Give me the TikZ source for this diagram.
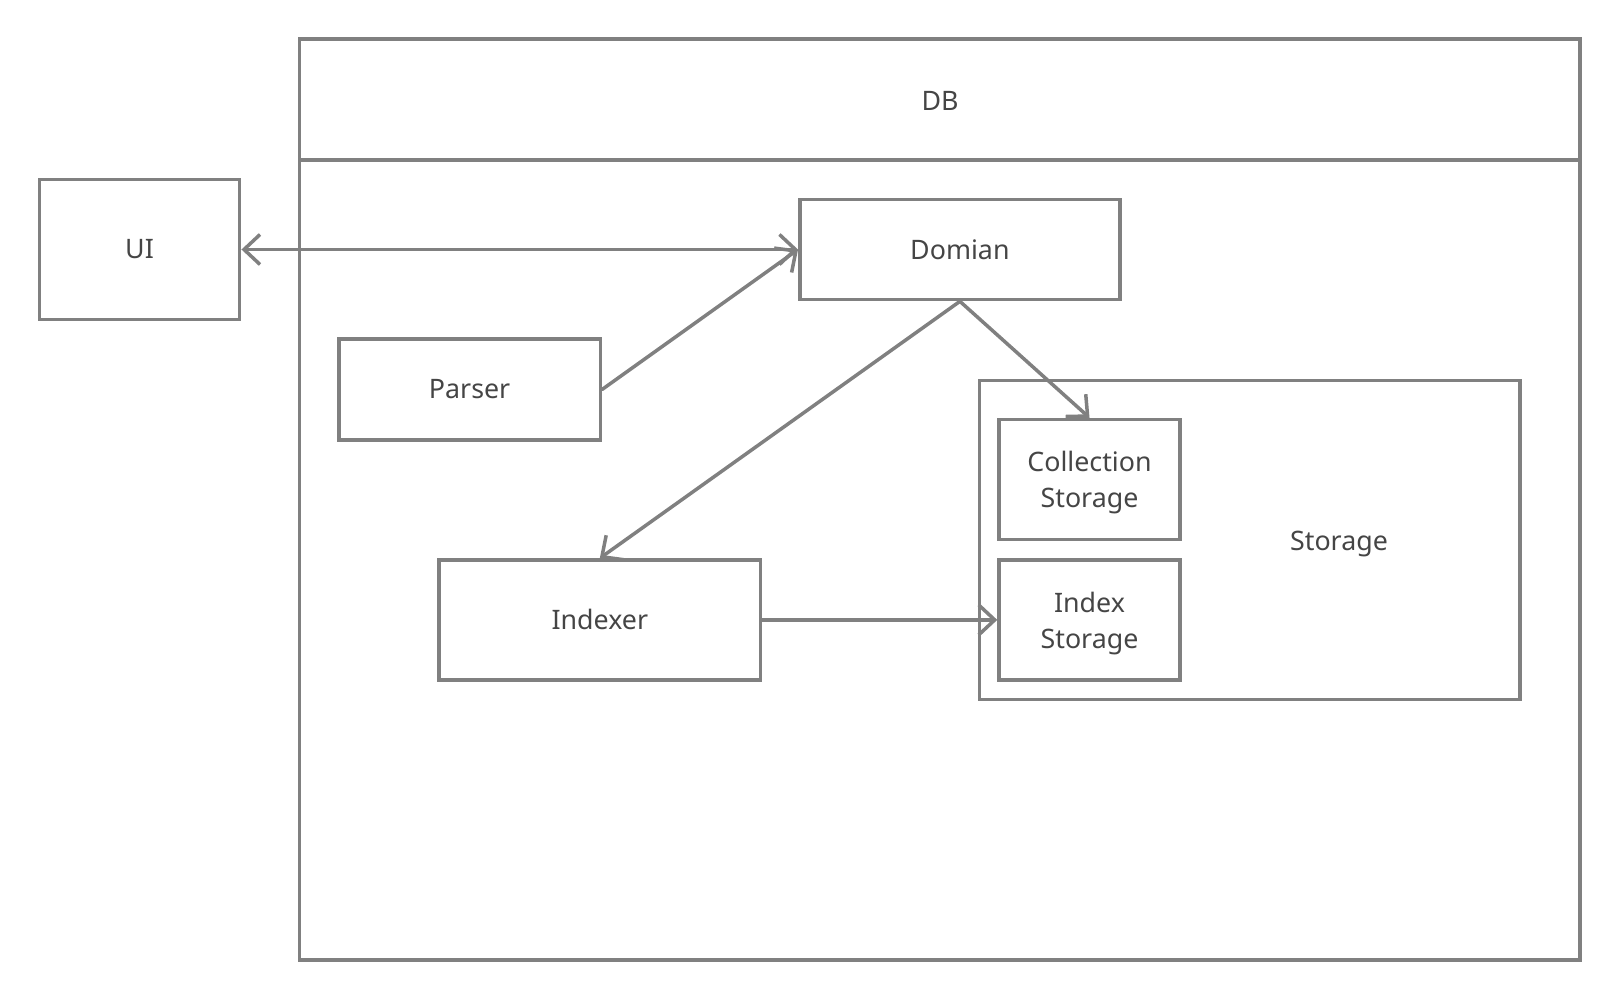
\documentclass[tikz,border=0pt]{standalone}
\usepackage{fontspec}
\setmainfont{Noto Sans}
\usetikzlibrary{arrows.meta}
\definecolor{linegray}{HTML}{808080}
\definecolor{textgray}{HTML}{454545}
\begin{document}
\begin{tikzpicture}[x=0.5pt,y=-0.5pt,
  box/.style={draw=linegray, line width=1.75pt, inner sep=0pt, text=textgray,
    font=\fontsize{13.4}{18}\selectfont, align=center},
  lbl/.style={text=textgray, font=\fontsize{13.4}{18}\selectfont, align=center, inner sep=0pt},
  conn/.style={draw=linegray, line width=1.75pt, line cap=round},
  tip/.style={-{Straight Barb[length=8pt,width=15pt,line width=1.75pt]}}]
\useasboundingbox (0,0) rectangle (1620,1000);
% DB container
\node[box, minimum width=640.1pt, minimum height=460.25pt] (db) at (939.7,499.5) {};
\coordinate (hl) at (299.6,160.1);
\coordinate (hr) at (1579.8,160.1);
\draw[conn, line cap=butt] (hl) -- (hr);
\node[lbl] (dblabel) at (940,101) {DB};
% nodes
\node[box, minimum width=100.2pt, minimum height=69.75pt] (ui) at (139.5,249.5) {UI};
\node[box, minimum width=160.15pt, minimum height=50.1pt] (domian) at (959.9,249.5) {Domian};
\node[box, minimum width=130.7pt, minimum height=50.6pt] (parser) at (469.6,389.5) {Parser};
\node[box, minimum width=160.65pt, minimum height=59.9pt] (indexer) at (599.8,619.9) {Indexer};
\node[box, minimum width=270.15pt, minimum height=159.65pt] (storage) at (1249.7,539.9) {};
\node[lbl] (storagelabel) at (1339,544) {Storage};
\node[box, minimum width=90.5pt, minimum height=59.9pt] (coll) at (1089.5,479.4) {};
\node[lbl] (colllabel) at (1089.5,483) {Collection\\Storage};
\node[box, minimum width=90.5pt, minimum height=59.9pt] (idx) at (1089.5,619.9) {};
\node[lbl] (idxlabel) at (1089.5,624) {Index\\Storage};
% connectors
\draw[conn, {Straight Barb[length=8pt,width=15pt,line width=1.75pt]}-{Straight Barb[length=8pt,width=15pt,line width=1.75pt]}] (ui.east) -- (domian.west);
\draw[conn, tip] (parser.east) -- (domian.west);
\draw[conn, tip] (domian.south) -- (indexer.north);
\draw[conn, tip] (domian.south) -- (coll.north);
\draw[conn, tip] (indexer.east) -- (idx.west);
\end{tikzpicture}
\end{document}
